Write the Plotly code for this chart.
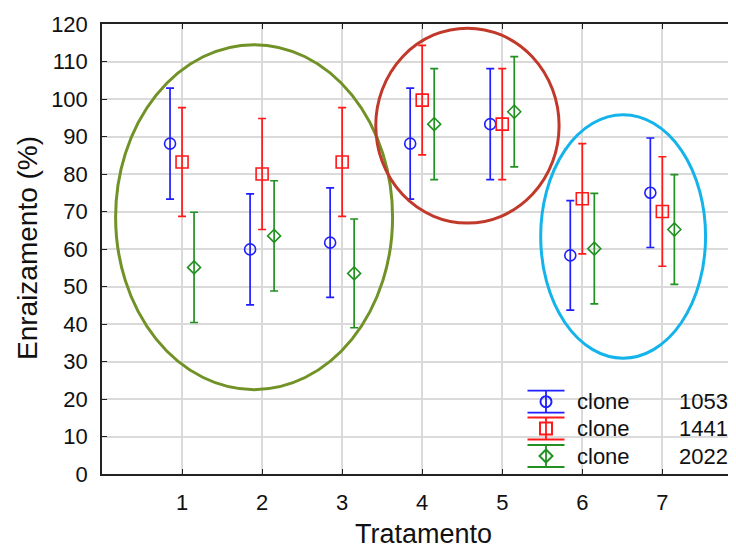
import plotly.graph_objects as go

# ---- data ----
tratamentos = [1, 2, 3, 4, 5, 6, 7]
series_names = ["1053", "1441", "2022"]

mean_1053 = [88.1, 59.9, 61.7, 88.1, 93.3, 58.3, 75.0]
err_1053 = [14.8, 14.8, 14.6, 14.8, 14.8, 14.6, 14.6]

mean_1441 = [83.2, 80.0, 83.2, 99.7, 93.3, 73.4, 70.0]
err_1441 = [14.5, 14.8, 14.5, 14.6, 14.8, 14.7, 14.6]

mean_2022 = [55.1, 63.5, 53.5, 93.3, 96.6, 60.1, 65.2]
err_2022 = [14.7, 14.7, 14.5, 14.8, 14.7, 14.75, 14.65]

y_ticks = list(range(0, 121, 10))

# group highlight ellipses (x0, x1, y0, y1 in data units)
ellipse_bounds = [
    (0.17, 3.63, 22.5, 114.5),
    (3.42, 5.71, 66.9, 118.9),
    (5.48, 7.54, 30.9, 95.8),
]
ellipse_colors = ["rgb(112,146,38)", "rgb(192,57,43)", "rgb(20,180,235)"]

# ---- style ----
colors = ["rgb(30,30,255)", "rgb(255,25,25)", "rgb(34,145,34)"]
symbols = ["circle-open", "square-open", "diamond-open"]
sizes = [11, 12, 10]
offsets = [-0.15, 0.0, 0.15]
FONT = "Liberation Sans, Arial, sans-serif"
TXT = "#111111"

fig = go.Figure()

for name, means, errs, col, sym, sz, off in zip(
    series_names,
    [mean_1053, mean_1441, mean_2022],
    [err_1053, err_1441, err_2022],
    colors, symbols, sizes, offsets,
):
    fig.add_trace(go.Scatter(
        x=[t + off for t in tratamentos],
        y=means,
        mode="markers",
        marker=dict(symbol=sym, size=sz, color=col, line=dict(color=col, width=1.6)),
        error_y=dict(type="data", array=errs, visible=True, color=col, thickness=1.7, width=4),
        showlegend=False,
        name="clone " + name,
    ))

# ellipses
for (x0, x1, y0, y1), c in zip(ellipse_bounds, ellipse_colors):
    fig.add_shape(type="circle", xref="x", yref="y", x0=x0, x1=x1, y0=y0, y1=y1,
                  line=dict(color=c, width=3), layer="above")

# dummy trace to create top axis with ticks
fig.add_trace(go.Scatter(x=[1], y=[0], xaxis="x2", mode="markers",
                         marker=dict(opacity=0), showlegend=False, hoverinfo="skip"))

# manual legend drawn in pixel-like overlay axes (screen pixel coordinates)
leg_rows_y = [401.7, 428.5, 456.0]
leg_x = 546
for i, (name, col, sym, sz) in enumerate(zip(series_names, colors, symbols, sizes)):
    fig.add_trace(go.Scatter(
        x=[leg_x], y=[leg_rows_y[i]], xaxis="x3", yaxis="y3", mode="markers",
        marker=dict(symbol=sym, size=sz, color=col, line=dict(color=col, width=2)),
        error_y=dict(type="constant", value=11, visible=True, color=col, thickness=1.8, width=18.5),
        showlegend=False, hoverinfo="skip",
    ))
    fig.add_annotation(x=575, y=leg_rows_y[i], xref="x3", yref="y3", text="clone",
                       showarrow=False, xanchor="left", yanchor="middle",
                       font=dict(family=FONT, size=22, color=TXT))
    fig.add_annotation(x=730, y=leg_rows_y[i], xref="x3", yref="y3", text=name,
                       showarrow=False, xanchor="right", yanchor="middle",
                       font=dict(family=FONT, size=22, color=TXT))

# axis titles as annotations in paper coords (plot area is screen x 102..736, y 24..474)
fig.add_annotation(x=(423 - 102) / 634, y=(474 - 534) / 450, xref="paper", yref="paper",
                   text="Tratamento", showarrow=False, xanchor="center", yanchor="middle",
                   font=dict(family=FONT, size=27, color=TXT))
fig.add_annotation(x=(27 - 102) / 634, y=(474 - 248) / 450, xref="paper", yref="paper",
                   text="Enraizamento (%)", showarrow=False, textangle=-90,
                   xanchor="center", yanchor="middle",
                   font=dict(family=FONT, size=28, color=TXT))

# page body has an 8px margin, so the figure is placed at (8, 8)
fig.update_layout(
    width=728, height=542,
    margin=dict(l=94, r=0, t=16, b=76, autoexpand=False),
    paper_bgcolor="white", plot_bgcolor="white",
    font=dict(family=FONT, size=22, color=TXT),
    xaxis=dict(
        range=[0, 7.92], tickvals=tratamentos, ticktext=[str(t) for t in tratamentos],
        showgrid=True, gridcolor="rgb(218,218,218)", gridwidth=1.5,
        showline=True, linecolor="#222", linewidth=1.5,
        ticks="inside", ticklen=5, tickcolor="#222", zeroline=False,
        tickfont=dict(size=22), ticklabelstandoff=8, automargin=False,
    ),
    xaxis2=dict(
        overlaying="x", side="top", range=[0, 7.92], tickvals=tratamentos,
        showticklabels=False, showgrid=False, showline=True, linecolor="#222", linewidth=1.5,
        ticks="inside", ticklen=5, tickcolor="#222", zeroline=False, automargin=False,
    ),
    yaxis=dict(
        range=[0, 120], tickvals=y_ticks,
        showgrid=True, gridcolor="rgb(218,218,218)", gridwidth=1.5,
        showline=True, linecolor="#222", linewidth=1.5,
        ticks="inside", ticklen=5, tickcolor="#222", zeroline=False,
        tickfont=dict(size=22), ticklabelstandoff=8, automargin=False,
    ),
    xaxis3=dict(overlaying="x", range=[102, 736], visible=False),
    yaxis3=dict(overlaying="y", range=[474, 24], visible=False),
)

fig.write_html("out.html")
